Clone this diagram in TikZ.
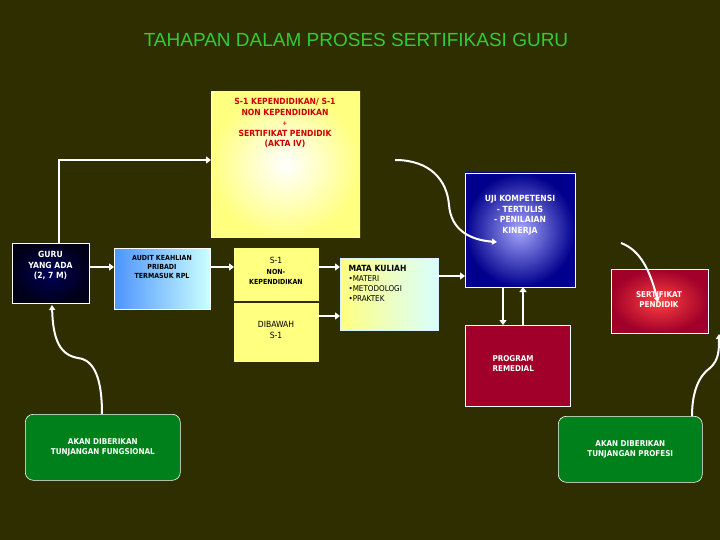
\documentclass[tikz,border=0pt]{standalone}
\usepackage{fontspec}
\setmainfont{Liberation Sans}
\newfontfamily\boxfont{DejaVu Sans Condensed}
\usetikzlibrary{arrows.meta}
\definecolor{bg}{HTML}{2E2E00}
\definecolor{ttl}{HTML}{33CC33}
\definecolor{ylw}{HTML}{FFFF80}
\definecolor{dred}{HTML}{A0002A}
\definecolor{gr}{HTML}{00801A}
\definecolor{txtred}{HTML}{CC0000}
\begin{document}
\begin{tikzpicture}[x=1pt,y=-1pt,
  bx/.style={draw=white,line width=0.6pt,minimum width=#1,inner sep=1pt,align=center,anchor=north west,font=\boxfont\fontsize{8.5}{10}\selectfont},
  ar/.style={draw=white,line width=2.5pt,-{Triangle[length=5pt,width=7pt]}},
  cv/.style={draw=white,line width=2pt,-{Triangle[length=5pt,width=6pt]}}]
\fill[bg] (0,0) rectangle (720,540);
\useasboundingbox (0,0) rectangle (720,540);
\node[font=\fontsize{19}{22}\selectfont,text=ttl] (title) at (356,40) {TAHAPAN DALAM PROSES SERTIFIKASI GURU};
% yellow top
\shade[inner color=white,outer color=ylw] (211,92) rectangle (360,237);
\node[bx,minimum height=145pt,text=txtred,anchor=north west] (top) at (211,92) {};
\node[font=\boxfont\bfseries\fontsize{8.5}{10.5}\selectfont,text=txtred,align=center,anchor=north] (toptext) at (285,95) {S-1 KEPENDIDIKAN/ S-1\\NON KEPENDIDIKAN\\{\fontsize{6}{8}\selectfont +}\\SERTIFIKAT PENDIDIK\\(AKTA IV)};
% GURU
\shade[inner color=blue!35!black,outer color=blue!10!black] (12,243) rectangle (89,303);
\node[bx,minimum width=77pt,minimum height=60pt,text=white] (guru) at (12,243) {};
\node[font=\boxfont\bfseries\fontsize{8.5}{10.5}\selectfont,text=white,align=center,anchor=north] (gurut) at (50.5,248) {GURU\\YANG ADA\\(2, 7 M)};
% AUDIT
\shade[left color=blue!60!cyan!70!white,right color=cyan!20!white] (114,248) rectangle (210,309);
\node[bx,minimum width=96pt,minimum height=61pt] (audit) at (114,248) {};
\node[font=\boxfont\bfseries\fontsize{7}{9}\selectfont,align=center,anchor=north] (auditt) at (162,252) {AUDIT KEAHLIAN\\PRIBADI\\TERMASUK RPL};
% S-1
\node[bx,fill=ylw,draw=ylw,minimum width=84pt,minimum height=52pt] (s1) at (234,248) {};
\node[font=\boxfont\fontsize{8.5}{10}\selectfont,align=center,anchor=north] (s1t) at (276,254) {S-1\\[1pt]{\bfseries\fontsize{7}{9}\selectfont NON-}\\{\bfseries\fontsize{7}{9}\selectfont KEPENDIDIKAN}};
\node[bx,fill=ylw,draw=ylw,minimum width=84pt,minimum height=58pt] (dib) at (234,303) {};
\node[font=\boxfont\fontsize{8.5}{11}\selectfont,align=center,anchor=north] (dibt) at (276,318) {DIBAWAH\\S-1};
% MATA KULIAH
\shade[left color=ylw,right color=cyan!15!white] (340,258) rectangle (438,330);
\node[bx,minimum width=98pt,minimum height=72pt,draw=cyan!15!white] (mk) at (340,258) {};
\node[font=\boxfont\fontsize{8}{10}\selectfont,align=left,anchor=north west] (mkt) at (345,262) {{\bfseries\fontsize{8.5}{10}\selectfont MATA KULIAH}\\\textbullet MATERI\\\textbullet METODOLOGI\\\textbullet PRAKTEK};
% UJI
\shade[inner color=blue!35!white,outer color=blue!55!black] (465,173) rectangle (575,287);
\node[bx,minimum width=110pt,minimum height=114pt] (uji) at (465,173) {};
\node[font=\boxfont\bfseries\fontsize{8.5}{10.5}\selectfont,text=white,align=center,anchor=north] (ujit) at (520,192) {UJI KOMPETENSI\\- TERTULIS\\- PENILAIAN\\KINERJA};
% REMEDIAL
\node[bx,fill=dred,minimum width=105pt,minimum height=81pt] (rem) at (465,325) {};
\node[font=\boxfont\bfseries\fontsize{8}{10}\selectfont,text=white,align=left,anchor=north west] (remt) at (489,352) {PROGRAM\\REMEDIAL};
% SERTIFIKAT
\shade[inner color=red!75!white,outer color=dred] (611,269) rectangle (708,333);
\node[bx,minimum width=97pt,minimum height=64pt] (sert) at (611,269) {};
\node[font=\boxfont\bfseries\fontsize{8}{10}\selectfont,text=white,align=center,anchor=north] (sertt) at (659,288) {SERTIFIKAT\\PENDIDIK};
% green
\node[bx,fill=gr,rounded corners=8pt,minimum width=155pt,minimum height=66pt,text=white,font=\boxfont\bfseries\fontsize{8}{10}\selectfont] (gl) at (25,414) {AKAN DIBERIKAN\\TUNJANGAN FUNGSIONAL};
\node[bx,fill=gr,rounded corners=8pt,minimum width=144pt,minimum height=66pt,text=white,font=\boxfont\bfseries\fontsize{8}{10}\selectfont] (gr) at (558,416) {AKAN DIBERIKAN\\TUNJANGAN PROFESI};
% straight arrows
\coordinate (gtop) at (59,243);
\draw[ar] (gtop) |- (211,160);
\draw[ar] (89,267) -- (114,267);
\draw[ar] (210,267) -- (234,267);
\draw[ar] (318,267) -- (340,267);
\draw[ar] (318,316) -- (340,316);
\draw[ar] (438,276) -- (465,276);
\draw[ar] (503,287) -- (503,325);
\draw[ar] (523,325) -- (523,287);
% curves
\coordinate (c1) at (395,160);
\coordinate (c1e) at (497,242);
\draw[cv] (c1) .. controls (430,160) and (447,180) .. (449,205) .. controls (451,230) and (470,240) .. (c1e);
\coordinate (c2) at (621,243);
\coordinate (c2e) at (658,302);
\draw[cv] (c2) .. controls (640,250) and (650,270) .. (c2e);
\coordinate (c3) at (102,414);
\coordinate (c3e) at (52,305);
\draw[cv] (c3) .. controls (102,380) and (95,360) .. (78,358) .. controls (60,355) and (53,340) .. (c3e);
\coordinate (c4) at (692,416);
\coordinate (c4e) at (719,334);
\draw[cv] (c4) .. controls (692,390) and (700,375) .. (710,368) .. controls (719,360) and (719,350) .. (c4e);
\end{tikzpicture}
\end{document}
